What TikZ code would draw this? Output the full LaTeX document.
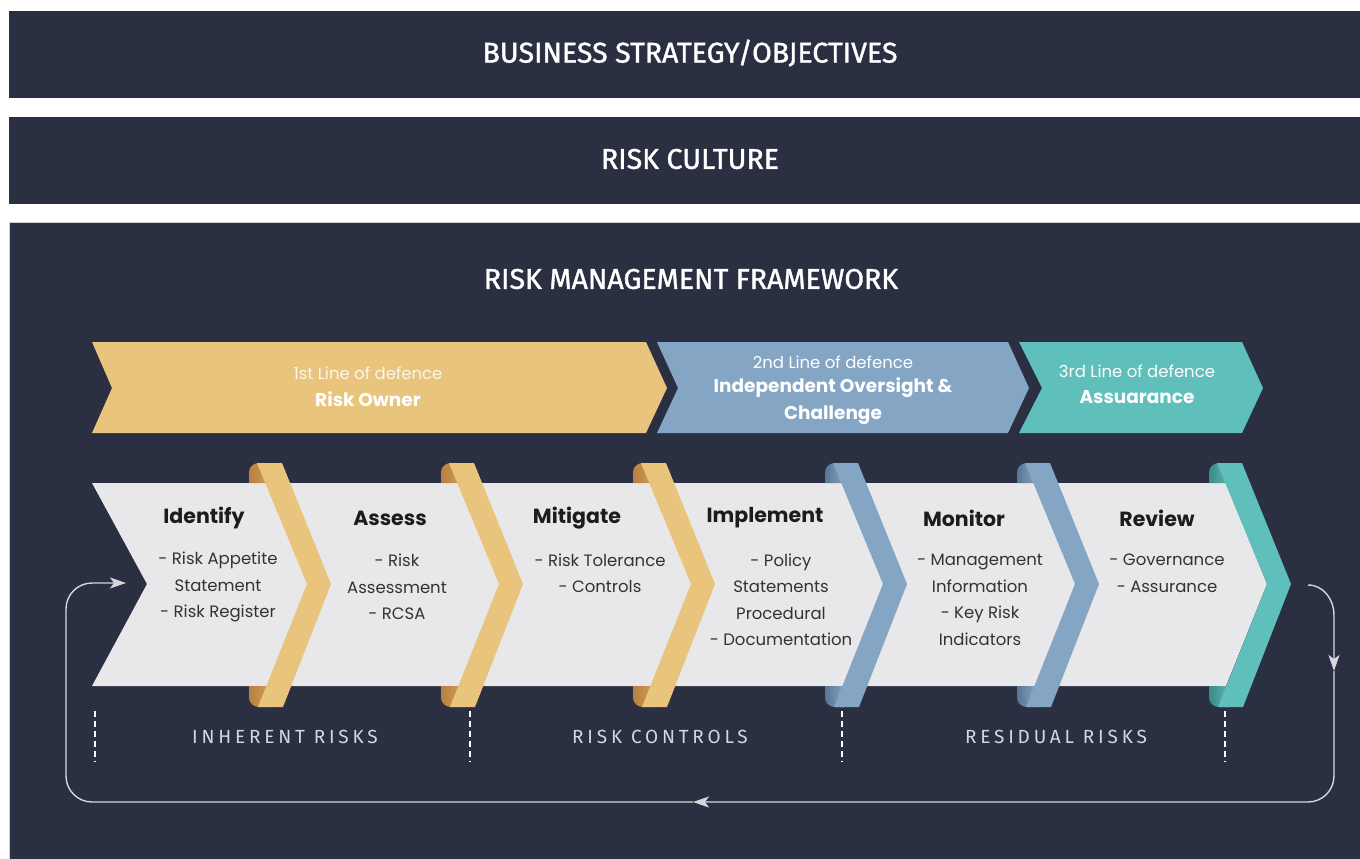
\documentclass[tikz,border=0pt]{standalone}
\usepackage{fontspec}
\setmainfont{Poppins}
\newfontfamily\headfont[FakeBold=1.3]{Fira Sans}
\newfontfamily\labfont[LetterSpace=20]{Fira Sans}
\usetikzlibrary{arrows.meta}
\definecolor{navy}{HTML}{2A2F42}
\definecolor{gold}{HTML}{E9C47C}
\definecolor{golddk}{HTML}{B8803E}
\definecolor{goldmd}{HTML}{DDA662}
\definecolor{bluec}{HTML}{84A5C4}
\definecolor{bluedk}{HTML}{587794}
\definecolor{bluemd}{HTML}{9CB6CF}
\definecolor{teal}{HTML}{5EBFBB}
\definecolor{tealdk}{HTML}{3A8A86}
\definecolor{tealmd}{HTML}{6FC9C5}
\definecolor{greyband}{HTML}{E8E8EA}
\definecolor{txtdark}{HTML}{1C1C1E}
\definecolor{txtbody}{HTML}{333335}
\definecolor{loopc}{HTML}{D6D7DD}
\tikzset{
  bar/.style={fill=navy, draw=none},
  headtxt/.style={text=white, font=\headfont\fontsize{28.5}{30}\selectfont},
  title/.style={text=txtdark, font=\bfseries\fontsize{20.5}{24}\selectfont, inner sep=0pt},
  body/.style={text=txtbody, font=\fontsize{16.5}{26.5}\selectfont, align=center, inner sep=0pt},
  lodsmall/.style={text=white, font=\fontsize{16.5}{20}\selectfont, inner sep=0pt},
  lodbig/.style={text=white, font=\bfseries\fontsize{18.5}{26.5}\selectfont, align=center, inner sep=0pt},
  bottomlab/.style={text=loopc, font=\labfont\fontsize{19}{20}\selectfont, inner sep=0pt},
  loopline/.style={draw=loopc, line width=1.4pt},
  looptip/.style={-{Stealth[length=16pt,width=11pt,inset=4pt]}},
  sep/.style={draw=white, line width=1.5pt, dash pattern=on 6pt off 4pt},
}
\newcommand{\fold}[4]{% x0, main, dark, mid
  \shade[left color=#3, right color=#4] (#1-8,483) -- (#1-8,472) to[out=90,in=180] (#1+2,463) -- (#1+12,463) -- (#1+20,483) -- cycle;
  \shade[left color=#3, right color=#4] (#1-8,686) -- (#1-8,698) to[out=-90,in=180] (#1+2,707) -- (#1+12,707) -- (#1+20,686) -- cycle;
  \fill[#2] (#1,463) -- (#1+25,463) -- (#1+74,584) -- (#1+26,707) -- (#1+1,707) -- (#1+50,584) -- cycle;
}
\begin{document}
\begin{tikzpicture}[x=1pt,y=-1pt]
\useasboundingbox (0,0) rectangle (1360,859);
\fill[white] (0,0) rectangle (1360,859);
% bars
\fill[bar] (9,11) rectangle (1360,98);
\node[headtxt] (bso) at (690,53) {BUSINESS STRATEGY/OBJECTIVES};
\fill[bar] (9,117) rectangle (1360,204);
\node[headtxt] (rc) at (690,159) {RISK CULTURE};
\fill[navy] (9,222) rectangle (1362,861);
\draw[draw=black!18, line width=1.2pt] (9.6,861) -- (9.6,222.6) -- (1362,222.6);
\node[headtxt] (rmf) at (691,279) {RISK MANAGEMENT FRAMEWORK};
% lines of defence
\fill[gold] (92,342) -- (646,342) -- (667,388) -- (646,433) -- (92,433) -- (112,388) -- cycle;
\fill[bluec] (657,342) -- (1008,342) -- (1029,388) -- (1008,433) -- (657,433) -- (678,388) -- cycle;
\fill[teal] (1019,342) -- (1242,342) -- (1263,388) -- (1242,433) -- (1019,433) -- (1042,388) -- cycle;
\node[lodsmall, text=white!85!gold] (l1a) at (368,373) {1st Line of defence};
\node[lodbig] (l1b) at (368,399) {Risk Owner};
\node[lodsmall] (l2a) at (833,362) {2nd Line of defence};
\node[lodbig] (l2b) at (833,401) {Independent Oversight \&\\Challenge};
\node[lodsmall] (l3a) at (1137,371) {3rd Line of defence};
\node[lodbig] (l3b) at (1137,397) {Assuarance};
% grey band
\fill[greyband] (92,483) -- (1226,483) -- (1267,584) -- (1226,686) -- (92,686) -- (147,584) -- cycle;
\fold{257}{gold}{golddk}{goldmd}
\fold{449}{gold}{golddk}{goldmd}
\fold{641}{gold}{golddk}{goldmd}
\fold{833}{bluec}{bluedk}{bluemd}
\fold{1025}{bluec}{bluedk}{bluemd}
\fold{1217}{teal}{tealdk}{tealmd}
% steps
\node[title] (t1) at (204,518) {Identify};
\node[body] (b1) at (218,587) {- Risk Appetite\\Statement\\- Risk Register};
\node[title] (t2) at (390,518) {Assess};
\node[body] (b2) at (397,587) {- Risk\\Assessment\\- RCSA};
\node[title] (t3) at (577,518) {Mitigate};
\node[body] (b3) at (600,573.5) {- Risk Tolerance\\- Controls};
\node[title] (t4) at (765,518) {Implement};
\node[body] (b4) at (781,600) {- Policy\\Statements\\Procedural\\- Documentation};
\node[title] (t5) at (964,518) {Monitor};
\node[body] (b5) at (980,600) {- Management\\Information\\- Key Risk\\Indicators};
\node[title] (t6) at (1157,518) {Review};
\node[body] (b6) at (1167,573.5) {- Governance\\- Assurance};
% separators
\draw[sep] (95,711) -- (95,762);
\draw[sep] (470,711) -- (470,762);
\draw[sep] (842,711) -- (842,762);
\draw[sep] (1225,711) -- (1225,762);
\node[bottomlab] (lab1) at (285,737) {INHERENT RISKS};
\node[bottomlab] (lab2) at (660,737) {RISK CONTROLS};
\node[bottomlab] (lab3) at (1056,737) {RESIDUAL RISKS};
% loop
\coordinate (ls) at (1308,585);
\coordinate (la) at (1334,671);
\coordinate (lb) at (693,802);
\coordinate (le) at (126,583);
\draw[loopline, looptip] (ls) to[out=0,in=90] (1334,615) -- (la);
\draw[loopline, looptip, rounded corners=26pt] (la) -- (1334,802) -- (lb);
\draw[loopline, looptip, rounded corners=26pt] (lb) -- (66,802) -- (66,583) -- (le);
\end{tikzpicture}
\end{document}
